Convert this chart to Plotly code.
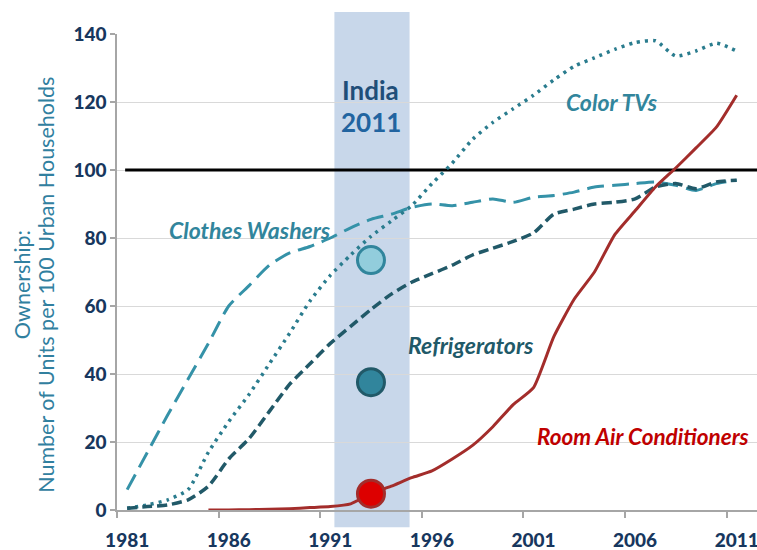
import plotly.graph_objects as go

years = list(range(1981, 2012))

clothes_washers = [6, 17, 28, 38.5, 49, 60, 66, 72, 75.6, 77.5, 80, 83, 85.5, 87, 89,
                   90, 89.5, 90.5, 91.5, 90.5, 92, 92.5, 93.5, 95, 95.5, 96, 96.5,
                   95.5, 94, 96, 97]
color_tvs = [0.5, 1.5, 3, 6, 17, 26, 34, 43, 52, 61.5, 69, 75, 80.5, 85, 89.5,
             96, 102, 109, 114, 118, 122, 126.5, 130.5, 133, 135.5, 137.5, 138,
             133.5, 135, 137.3, 135]
refrigerators = [0.5, 1, 1.5, 3, 7, 15, 21, 29, 37, 43, 49, 54, 59, 63.5, 67,
                 69.5, 72, 75, 77, 79, 81.5, 87, 88.5, 90, 90.5, 91.5, 95, 96,
                 94.5, 96.5, 97]
ac_years = list(range(1985, 2012))
room_ac = [0, 0, 0.1, 0.2, 0.4, 0.7, 1.0, 1.8, 4.8, 7, 9.5, 11.5, 15, 19, 24.5,
           31, 36, 51, 62, 70, 81, 88, 95, 100.6, 106.5, 112.6, 122]

# India 2011 ownership markers
india_x = [1993, 1993, 1993]
india_vals = [73.5, 37.6, 4.8]

label_years = [1981, 1986, 1991, 1996, 2001, 2006, 2011]
y_ticks = [0, 20, 40, 60, 80, 100, 120, 140]

FONT = "Lato"
TICK_COLOR = "#17375e"

fig = go.Figure()

fig.add_trace(go.Scatter(x=years, y=clothes_washers, mode="lines",
                         line=dict(color="#3592a8", width=3, dash="17px,8px",
                                   shape="spline", smoothing=0.6),
                         name="Clothes Washers", hoverinfo="skip"))
fig.add_trace(go.Scatter(x=years, y=color_tvs, mode="lines",
                         line=dict(color="#2a7c8e", width=3.5, dash="3px,5px",
                                   shape="spline", smoothing=0.6),
                         name="Color TVs", hoverinfo="skip"))
fig.add_trace(go.Scatter(x=years, y=refrigerators, mode="lines",
                         line=dict(color="#215968", width=3.5, dash="10px,5px",
                                   shape="spline", smoothing=0.6),
                         name="Refrigerators", hoverinfo="skip"))
fig.add_trace(go.Scatter(x=ac_years, y=room_ac, mode="lines",
                         line=dict(color="#a32d2b", width=3,
                                   shape="spline", smoothing=0.5),
                         name="Room Air Conditioners", hoverinfo="skip"))
fig.add_trace(go.Scatter(x=india_x, y=india_vals, mode="markers",
                         marker=dict(size=27,
                                     color=["#92cddc", "#31859c", "#dd0000"],
                                     line=dict(color=["#31859c", "#215968", "#a32d2b"],
                                               width=3)),
                         hoverinfo="skip"))

# shaded India band
fig.add_shape(type="rect", xref="x", yref="paper", x0=1991.2, x1=1994.9,
              y0=-0.036, y1=1.046, fillcolor="#c8d7ea", line_width=0,
              layer="below")
# 100 reference line
fig.add_shape(type="line", xref="x", yref="y", x0=1980.9, x1=2012, y0=100, y1=100,
              line=dict(color="black", width=3), layer="between")

annos = [
    dict(x=1993, y=123.5, text="<b>India</b>", font=dict(size=26, color="#1f4e79")),
    dict(x=1993, y=114, text="<b>2011</b>", font=dict(size=26, color="#2264a0")),
    dict(x=2004.86, y=120, text="<b><i>Color TVs</i></b>", font=dict(size=23, color="#31859c")),
    dict(x=1987.05, y=82.4, text="<b><i>Clothes Washers</i></b>", font=dict(size=23, color="#31859c")),
    dict(x=1997.9, y=48.5, text="<b><i>Refrigerators</i></b>", font=dict(size=23, color="#215968")),
    dict(x=2006.4, y=21.5, text="<b><i>Room Air Conditioners</i></b>", font=dict(size=22.5, color="#c00000")),
]
for a in annos:
    a["font"]["family"] = FONT
    fig.add_annotation(showarrow=False, xref="x", yref="y", xanchor="center",
                       yanchor="middle", **a)

# y-axis title, two lines
for txt, xp in [("Ownership:", -0.148), ("Number of Units per 100 Urban Households", -0.111)]:
    fig.add_annotation(text=txt, xref="paper", yref="paper", x=xp, y=0.473,
                       textangle=-90, showarrow=False, xanchor="center",
                       yanchor="middle",
                       font=dict(family=FONT, size=21.5, color="#31809f"))

fig.update_layout(
    width=757, height=550,
    margin=dict(l=117, r=0, t=34, b=40, autoexpand=False),
    paper_bgcolor="white", plot_bgcolor="white",
    showlegend=False,
    font=dict(family=FONT),
    xaxis=dict(range=[1980.5, 2012], tickmode="array", tickvals=label_years,
               ticktext=[str(v) for v in label_years], ticks="",
               automargin=False, ticklabeloverflow="allow",
               showgrid=False, zeroline=False, showline=True,
               linecolor="#a6a6a6", linewidth=1.5,
               ticklabelstandoff=12,
               tickfont=dict(family=FONT, size=19, color=TICK_COLOR, weight=900),
               minor=dict(tickmode="array",
                          tickvals=[1980.5, 1985.5, 1990.5, 1995.5, 2000.5, 2005.5, 2010.5],
                          ticks="outside", ticklen=6, tickcolor="#a6a6a6",
                          tickwidth=1.5, showgrid=False)),
    yaxis=dict(range=[0, 140], tickmode="array", tickvals=y_ticks,
               automargin=False,
               ticks="outside", ticklen=5, tickcolor="#a6a6a6", tickwidth=1.5,
               showgrid=True, gridcolor="#d9d9d9", gridwidth=1,
               zeroline=False, showline=True, linecolor="#a6a6a6", linewidth=1.5,
               tickfont=dict(family=FONT, size=19, color=TICK_COLOR, weight=900)),
)

# remove the default 8px page margin so the figure fills the window exactly
fig.write_html("out.html",
               config={"displayModeBar": False},
               post_script="document.body.style.margin='0';"
                           "document.documentElement.style.overflow='hidden';")
